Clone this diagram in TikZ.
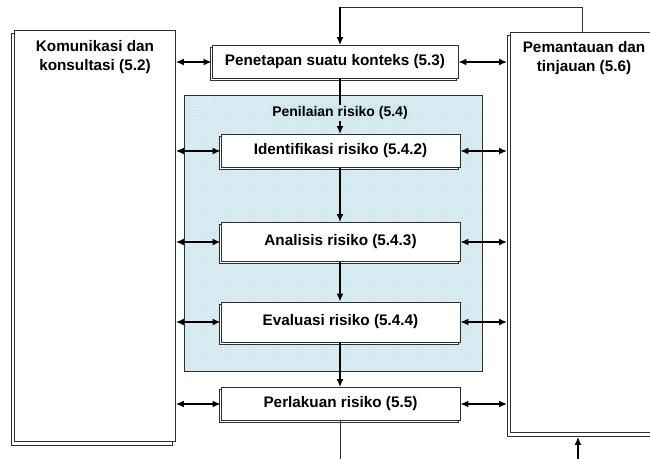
\documentclass[tikz,border=0pt]{standalone}
\usepackage{fontspec}
\setmainfont{Liberation Sans}
\usetikzlibrary{arrows.meta,patterns,shadows}
\definecolor{assessfill}{HTML}{D0E8EE}
\definecolor{edge}{HTML}{303030}
\tikzset{
  procbox/.style={draw=edge,line width=0.9pt,fill=white,minimum width=239pt,inner sep=0pt,
    font=\bfseries\fontsize{15.3}{17}\selectfont,
    copy shadow={shadow xshift=-2pt,shadow yshift=-2pt,draw=edge,line width=0.6pt,fill=white}},
  sidebox/.style={draw=edge,line width=0.9pt,fill=white},
  sidelabel/.style={font=\bfseries\fontsize{15.3}{19}\selectfont,align=center,inner sep=0pt},
  biarrow/.style={{Latex[length=8pt,width=7pt]}-{Latex[length=8pt,width=7pt]},line width=1.4pt,black},
  downarrow/.style={-{Latex[length=8pt,width=7pt]},line width=1.4pt,black},
  plainline/.style={line width=1.4pt,black}
}
\begin{document}
\begin{tikzpicture}[x=1pt,y=-1pt]
\useasboundingbox (0,0) rectangle (650,458);
\begin{scope}
\clip (0,0) rectangle (650,458);
% left box with shadow
\draw[edge,line width=0.7pt,fill=white] (11,33) rectangle (172,445);
\node[sidebox,anchor=north west,minimum width=161pt,minimum height=411pt,inner sep=0pt] (comm) at (14,30) {};
\node[sidelabel,anchor=north] (commlabel) at (comm.north) [yshift=-10pt] {Komunikasi dan\\konsultasi (5.2)};
% right box with shadow
\draw[edge,line width=0.7pt,fill=white] (507,35) rectangle (670,436);
\node[sidebox,anchor=north west,minimum width=150pt,minimum height=400pt,inner sep=0pt] (mon) at (510,32) {};
\node[sidelabel,anchor=north] (monlabel) at (584,41) {Pemantauan dan\\tinjauan (5.6)};
% assessment area
\node[draw=edge,line width=0.6pt,fill=assessfill,anchor=north west,minimum width=298pt,minimum height=276pt,inner sep=0pt] (assess) at (184,95) {};
\fill[pattern=crosshatch dots,pattern color=white!75!assessfill] (assess.north west) rectangle (assess.south east);
\draw[edge,line width=0.6pt] (assess.north west) rectangle (assess.south east);
\node[font=\bfseries\fontsize{14}{16}\selectfont,fill=assessfill,inner sep=1.5pt] (assesslabel) at (340,113) {Penilaian risiko (5.4)};
% process boxes
\node[procbox,minimum width=246pt,minimum height=33pt] (ctx) at (335,62) {Penetapan suatu konteks (5.3)};
\node[procbox,minimum height=33pt] (ident) at (340.5,151) {Identifikasi risiko (5.4.2)};
\node[procbox,minimum height=39pt] (anal) at (340.5,242) {Analisis risiko (5.4.3)};
\node[procbox,minimum height=40pt] (eval) at (340.5,322) {Evaluasi risiko (5.4.4)};
\node[procbox,minimum height=33pt] (treat) at (340.5,404) {Perlakuan risiko (5.5)};
% vertical flow
\draw[plainline] (ctx.south -| assesslabel) -- (assesslabel.north);
\draw[downarrow] (assesslabel.south) -- (ident.north -| assesslabel);
\draw[downarrow] (ident.south -| assesslabel) -- (anal.north -| assesslabel);
\draw[downarrow] (anal.south -| assesslabel) -- (eval.north -| assesslabel);
\draw[downarrow] (eval.south -| assesslabel) -- (treat.north -| assesslabel);
% top loop
\coordinate (topL) at (340,7);
\coordinate (topR) at (582,7);
\draw[edge,line width=1pt] (mon.north -| topR) -- (topR) -- (topL);
\draw[downarrow] (topL) -- (ctx.north -| topL);
% bottom loop
\coordinate (botL) at (340,470);
\coordinate (botR) at (578,470);
\draw[edge,line width=1pt] (treat.south -| botL) -- (botL) -- (botR);
\draw[downarrow] (botR) -- ([yshift=-4pt]mon.south -| botR);
% horizontal bidirectional arrows
\foreach \n in {ctx,ident,anal,eval,treat}{
  \draw[biarrow] (comm.east |- \n.west) -- (\n.west);
  \draw[biarrow] (\n.east) -- ([xshift=-3pt]mon.west |- \n.east);
}
\end{scope}
\end{tikzpicture}
\end{document}
